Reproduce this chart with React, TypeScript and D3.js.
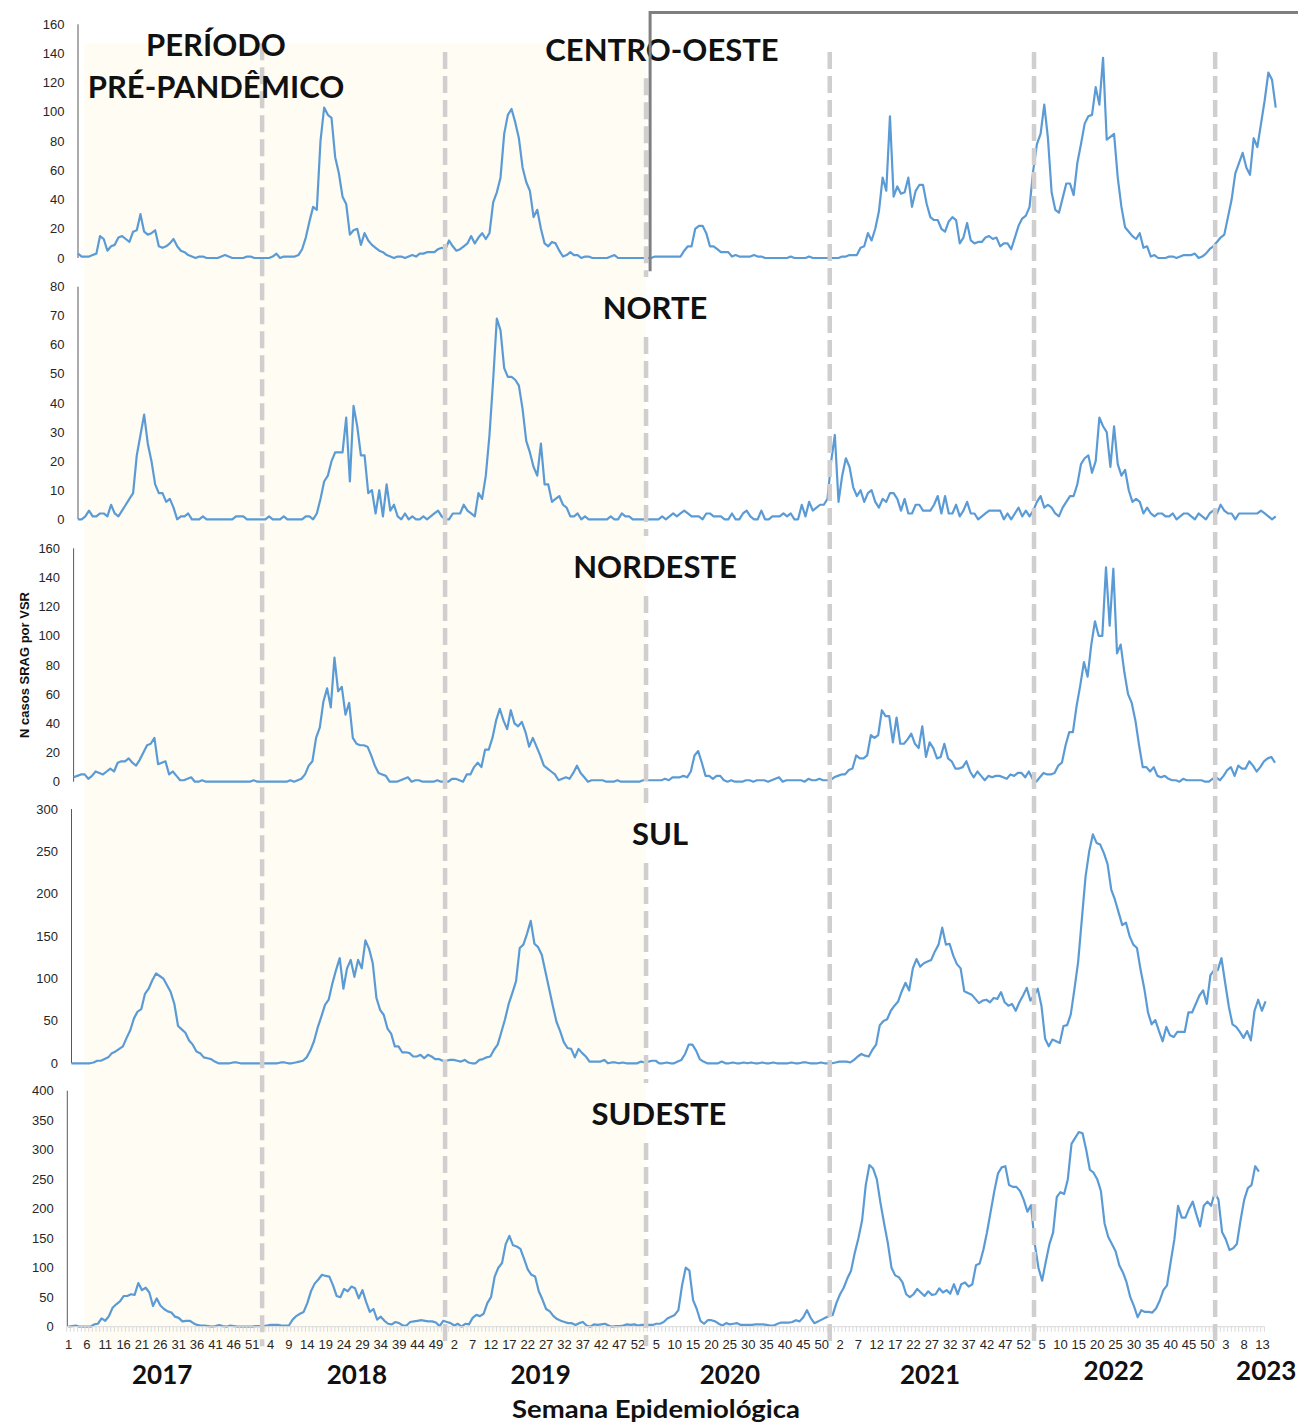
import React from "react";
import * as d3 from "d3";

// categories: epidemiological weeks per year (2023 partial)
const years = ["2017", "2018", "2019", "2020", "2021", "2022", "2023"];
const weeksPerYear = [52, 52, 52, 53, 52, 52, 16];
// where each year label sits, in week index
const yearLabelWeek = [25.5, 78.5, 128.5, 180, 234.5, 284.5, 326];
// dashed year dividers (week index, bottom panel scale)
const dividerWeek = [52.7, 102.5, 157.2, 207.2, 262.8, 312.1];
// top of each divider, in CENTRO-OESTE values
const dividerTopValue = [147, 141, 123, 141, 141, 141];

// weekly SRAG cases by RSV, per region (2017 w1 ...)
const centroOeste = [
  3, 1, 1, 1, 2, 3, 15, 13, 5, 8, 9, 14, 15, 13, 11, 18, 19, 30, 18, 16, 17, 19, 8, 7, 8, 10, 13, 8, 5, 4, 2, 1, 0, 1, 1, 0, 0, 0, 0, 1, 2, 1, 0, 0, 0, 0, 1, 1, 0, 0, 0, 0,
  0, 1, 3, 0, 1, 1, 1, 1, 2, 6, 14, 25, 35, 33, 80, 103, 98, 96, 69, 58, 42, 37, 16, 19, 20, 9, 17, 12, 9, 7, 5, 4, 2, 1, 0, 1, 1, 0, 1, 2, 1, 3, 3, 4, 4, 4, 6, 7, 6, 12, 8, 5,
  6, 8, 10, 15, 10, 14, 17, 13, 17, 38, 45, 55, 85, 98, 102, 93, 82, 62, 52, 46, 28, 33, 20, 10, 8, 11, 10, 5, 1, 2, 4, 2, 2, 0, 1, 1, 0, 0, 0, 0, 0, 1, 2, 0, 0, 0, 0, 0, 0, 0, 0, 0,
  0, 1, 1, 1, 1, 1, 1, 1, 1, 5, 8, 8, 20, 22, 22, 17, 8, 8, 6, 4, 4, 4, 1, 2, 1, 1, 1, 1, 2, 1, 1, 0, 0, 0, 0, 0, 0, 0, 1, 0, 0, 0, 0, 1, 0, 0, 0, 0, 0, 0, 0, 0, 1,
  1, 2, 2, 2, 7, 8, 17, 12, 20, 32, 55, 46, 97, 42, 49, 44, 45, 55, 35, 46, 50, 50, 37, 28, 26, 26, 20, 18, 25, 28, 26, 10, 14, 24, 12, 10, 11, 11, 14, 15, 13, 14, 8, 10, 10, 6, 14, 22, 27, 29, 35, 60,
  78, 85, 105, 82, 45, 33, 31, 41, 51, 51, 43, 65, 78, 92, 97, 98, 117, 105, 137, 81, 83, 85, 55, 35, 21, 18, 15, 13, 17, 7, 8, 1, 2, 0, 0, 0, 1, 1, 0, 1, 2, 2, 2, 3, 0, 1, 3, 6, 8, 11, 14, 16,
  28, 40, 58, 65, 72, 62, 57, 82, 76, 92, 108, 127, 122, 103,
];

const norte = [
  0, 0, 1, 3, 1, 1, 2, 2, 1, 5, 2, 1, 3, 5, 7, 9, 22, 29, 36, 26, 20, 12, 9, 9, 6, 7, 4, 0, 1, 1, 2, 0, 0, 0, 1, 0, 0, 0, 0, 0, 0, 0, 0, 1, 1, 1, 0, 0, 0, 0, 0, 0,
  1, 0, 0, 0, 1, 0, 0, 0, 0, 0, 1, 1, 0, 2, 7, 13, 15, 20, 23, 23, 23, 35, 13, 39, 32, 22, 22, 9, 10, 2, 10, 1, 12, 3, 5, 1, 0, 2, 0, 1, 0, 0, 1, 0, 1, 2, 3, 1, 0, 0, 2, 2,
  2, 5, 3, 2, 1, 9, 7, 15, 29, 48, 69, 65, 52, 49, 49, 48, 46, 38, 27, 23, 18, 15, 26, 12, 12, 6, 7, 8, 5, 4, 1, 1, 2, 0, 1, 0, 0, 0, 0, 0, 0, 1, 0, 0, 2, 1, 1, 0, 0, 0, 0, 0,
  0, 0, 0, 1, 0, 1, 2, 1, 2, 3, 2, 1, 1, 1, 0, 2, 2, 1, 1, 1, 0, 0, 2, 0, 0, 2, 3, 1, 0, 0, 3, 0, 0, 1, 1, 1, 2, 1, 2, 0, 0, 5, 1, 6, 3, 4, 5, 5, 7, 20, 29, 6, 15,
  21, 18, 11, 8, 10, 6, 9, 10, 6, 4, 7, 6, 9, 9, 7, 3, 7, 2, 2, 5, 5, 3, 3, 3, 5, 8, 2, 8, 2, 2, 5, 1, 3, 6, 2, 2, 0, 1, 2, 3, 3, 3, 3, 0, 2, 0, 2, 4, 1, 3, 1, 3,
  6, 8, 4, 5, 4, 2, 1, 4, 6, 8, 8, 12, 19, 21, 22, 16, 20, 35, 32, 30, 18, 32, 19, 15, 17, 10, 6, 7, 6, 2, 4, 2, 1, 2, 2, 1, 1, 2, 0, 1, 2, 2, 1, 0, 2, 1, 0, 2, 3, 2, 5, 3,
  2, 2, 0, 2, 2, 2, 2, 2, 2, 3, 2, 1, 0, 1,
];

const nordeste = [
  3, 4, 5, 5, 2, 4, 7, 6, 5, 7, 9, 7, 13, 14, 14, 16, 13, 11, 15, 20, 25, 26, 30, 12, 13, 14, 5, 7, 4, 1, 1, 2, 3, 0, 0, 1, 0, 0, 0, 0, 0, 0, 0, 0, 0, 0, 0, 0, 0, 1, 0, 0,
  0, 0, 0, 0, 0, 0, 0, 1, 0, 1, 2, 5, 11, 14, 30, 37, 55, 64, 51, 85, 62, 65, 46, 54, 30, 26, 25, 25, 24, 18, 11, 6, 5, 4, 0, 0, 0, 1, 2, 3, 0, 1, 1, 0, 0, 0, 0, 1, 0, 0, 0, 2,
  2, 1, 0, 5, 5, 10, 13, 10, 22, 22, 30, 42, 50, 42, 36, 49, 40, 38, 41, 34, 24, 30, 24, 18, 11, 9, 7, 5, 1, 2, 3, 2, 6, 11, 6, 3, 0, 1, 1, 1, 1, 0, 0, 0, 1, 0, 0, 0, 0, 0, 0, 1,
  1, 1, 1, 1, 1, 2, 1, 3, 3, 3, 4, 3, 7, 18, 21, 13, 4, 4, 2, 4, 4, 1, 0, 1, 0, 0, 0, 1, 1, 0, 1, 1, 1, 0, 1, 2, 3, 0, 1, 1, 1, 1, 1, 0, 2, 1, 1, 2, 1, 1, 1, 3, 4,
  5, 5, 8, 9, 18, 16, 16, 18, 32, 30, 32, 49, 45, 45, 27, 44, 26, 26, 29, 33, 26, 23, 38, 17, 27, 23, 16, 17, 26, 16, 14, 9, 9, 10, 14, 7, 3, 7, 4, 1, 4, 3, 4, 4, 3, 2, 5, 4, 6, 6, 3, 7,
  2, 0, 3, 6, 5, 5, 6, 11, 13, 25, 34, 34, 52, 66, 82, 72, 94, 110, 100, 100, 147, 107, 146, 88, 94, 75, 60, 54, 42, 25, 10, 10, 7, 10, 4, 3, 4, 2, 1, 1, 0, 2, 1, 1, 1, 1, 1, 0, 0, 2, 3, 1,
  4, 8, 10, 4, 11, 9, 9, 14, 11, 7, 10, 14, 16, 17, 13,
];

const sul = [
  0, 0, 0, 0, 0, 0, 1, 3, 3, 5, 7, 12, 14, 17, 20, 30, 39, 53, 61, 64, 82, 88, 98, 106, 103, 100, 92, 84, 70, 44, 40, 36, 27, 22, 14, 12, 7, 6, 5, 2, 0, 0, 0, 0, 1, 1, 0, 0, 0, 0, 0, 0,
  0, 0, 0, 0, 0, 1, 1, 0, 0, 1, 2, 3, 7, 15, 26, 42, 55, 69, 75, 94, 110, 124, 88, 112, 122, 102, 122, 112, 145, 135, 118, 77, 63, 57, 41, 35, 20, 20, 13, 13, 12, 8, 8, 10, 6, 10, 8, 5, 5, 3, 3, 4,
  4, 3, 2, 4, 1, 0, 0, 4, 5, 7, 8, 16, 22, 37, 52, 70, 83, 97, 136, 140, 153, 168, 141, 137, 128, 108, 88, 68, 49, 38, 25, 18, 17, 7, 17, 12, 8, 2, 2, 2, 2, 4, 0, 1, 1, 0, 1, 0, 0, 0, 0, 2,
  1, 2, 3, 3, 0, 0, 1, 0, 0, 2, 4, 11, 22, 22, 15, 5, 2, 0, 0, 0, 0, 2, 0, 0, 1, 0, 0, 1, 0, 1, 0, 0, 1, 0, 0, 1, 0, 0, 0, 0, 1, 0, 0, 1, 1, 0, 0, 0, 1, 0, 0, 0, 1,
  2, 2, 2, 1, 4, 8, 11, 9, 8, 16, 22, 45, 50, 52, 62, 68, 73, 85, 95, 86, 112, 123, 114, 118, 120, 122, 132, 140, 160, 140, 141, 127, 117, 112, 85, 83, 81, 76, 71, 74, 75, 72, 77, 76, 84, 72, 68, 70, 62, 72, 80, 89,
  74, 80, 88, 68, 29, 20, 28, 26, 24, 44, 45, 58, 88, 120, 170, 220, 250, 270, 260, 258, 248, 235, 205, 193, 178, 163, 166, 150, 140, 136, 110, 88, 60, 46, 51, 38, 26, 43, 33, 31, 37, 37, 37, 60, 60, 70, 80, 86, 70, 104, 110, 110,
  124, 95, 67, 46, 43, 37, 30, 38, 27, 62, 75, 62, 73,
];

const sudeste = [
  0, 1, 2, 0, 0, 0, 0, 4, 5, 14, 10, 18, 32, 38, 43, 52, 52, 55, 54, 74, 62, 66, 58, 35, 48, 36, 30, 26, 24, 17, 15, 9, 10, 10, 6, 3, 2, 2, 1, 0, 1, 3, 1, 0, 2, 1, 0, 0, 0, 0, 0, 1,
  1, 1, 2, 3, 3, 3, 2, 2, 2, 12, 18, 22, 25, 40, 60, 73, 80, 88, 86, 85, 70, 52, 50, 64, 60, 68, 65, 48, 62, 42, 25, 30, 12, 17, 10, 5, 4, 8, 6, 2, 2, 8, 9, 10, 11, 10, 9, 9, 7, 1, 10, 8,
  6, 2, 5, 0, 5, 4, 15, 20, 18, 22, 40, 50, 85, 100, 108, 140, 154, 138, 136, 132, 115, 97, 88, 85, 60, 46, 30, 26, 18, 13, 10, 8, 6, 6, 3, 6, 8, 2, 0, 4, 3, 4, 5, 2, 0, 1, 1, 2, 4, 3, 4, 2,
  3, 3, 3, 3, 5, 5, 8, 14, 17, 20, 28, 70, 100, 95, 45, 30, 10, 5, 11, 11, 9, 5, 2, 6, 4, 5, 6, 3, 3, 3, 3, 4, 4, 4, 3, 2, 2, 5, 7, 7, 7, 8, 11, 9, 16, 28, 15, 6, 9, 12, 15, 18, 20,
  40, 55, 66, 82, 95, 125, 150, 180, 240, 274, 268, 250, 210, 175, 142, 100, 87, 84, 75, 55, 50, 55, 64, 58, 52, 60, 54, 55, 65, 58, 62, 56, 72, 55, 72, 75, 68, 72, 104, 107, 130, 160, 195, 230, 260, 270, 272, 240, 237, 237, 230, 215,
  195, 206, 140, 100, 78, 110, 140, 160, 220, 228, 225, 250, 310, 320, 330, 328, 300, 266, 261, 250, 230, 175, 152, 140, 128, 104, 92, 75, 50, 35, 16, 28, 25, 25, 24, 31, 44, 62, 70, 110, 148, 205, 185, 185, 200, 212, 190, 170, 205, 212, 205, 228,
  215, 160, 148, 130, 133, 140, 180, 215, 235, 240, 272, 263,
];

const PX_PER_WEEK = 3.674;
const LINE = "#5b9bd5";
const TICK_FONT = "'Liberation Sans', Arial, sans-serif";
const TITLE_FONT = "Lato, 'Open Sans', sans-serif";

const panels = [
  { title: "CENTRO-OESTE", values: centroOeste, max: 160, step: 20, axisX: 78, x0: 78, top: 24.3, bottom: 258, tx: 662, ty: 61 },
  { title: "NORTE", values: norte, max: 80, step: 10, axisX: 78, x0: 78, top: 286.7, bottom: 519.3, tx: 655, ty: 319 },
  { title: "NORDESTE", values: nordeste, max: 160, step: 20, axisX: 73.6, x0: 73.6, top: 548.3, bottom: 781.7, tx: 655, ty: 578 },
  { title: "SUL", values: sul, max: 300, step: 50, axisX: 71.5, x0: 71.5, top: 809, bottom: 1063.3, tx: 660, ty: 845 },
  { title: "SUDESTE", values: sudeste, max: 400, step: 50, axisX: 67.3, x0: 68.5, top: 1090.7, bottom: 1326.7, tx: 659, ty: 1125 },
];

export default function App() {
  const W = 1298;
  const H = 1428;

  const weekNumbers: number[] = [];
  weeksPerYear.forEach((n) => {
    for (let w = 1; w <= n; w++) weekNumbers.push(w);
  });

  const scales = panels.map((p) => ({
    x: d3.scaleLinear().domain([0, 325]).range([p.x0, p.x0 + 325 * PX_PER_WEEK]),
    y: d3.scaleLinear().domain([0, p.max]).range([p.bottom, p.top]),
  }));
  const xb = scales[4].x;
  const yb = scales[4].y;
  const y1 = scales[0].y;

  const tickIdx = d3.range(0, 327);
  const labelIdx = d3.range(0, 326, 5);

  // the divider that runs through the region titles is broken around them
  const dividerSegments = (i: number): [number, number][] => {
    const top = y1(dividerTopValue[i]);
    const bot = yb(-33);
    if (i !== 2) return [[top, bot]];
    const segs: [number, number][] = [];
    let start = top;
    panels.slice(1).forEach((p) => {
      segs.push([start, p.ty - 42]);
      start = p.ty + 18;
    });
    segs.push([start, bot]);
    return segs;
  };

  return (
    <svg
      width={W}
      height={H}
      viewBox={`0 0 ${W} ${H}`}
      style={{ position: "absolute", left: 0, top: 0, display: "block", background: "#fff" }}
    >
      {/* pre-pandemic shading */}
      <rect
        x={xb(4.2)}
        y={y1(147)}
        width={xb(dividerWeek[2]) - xb(4.2)}
        height={yb(-40) - y1(147)}
        fill="#fefcf3"
      />

      {panels.map((p, k) => {
        const { x, y } = scales[k];
        const line = d3
          .line<number>()
          .x((_, i) => x(i))
          .y((d) => y(d));
        const ticks = d3.range(0, p.max + 1, p.step);
        return (
          <g key={p.title}>
            <line x1={p.axisX} x2={p.axisX} y1={y(p.max)} y2={y(0)} stroke="#595959" strokeWidth={1} />
            {ticks.map((t) => (
              <text
                key={t}
                x={p.axisX - 13.5}
                y={y(t)}
                dy="0.35em"
                textAnchor="end"
                fontFamily={TICK_FONT}
                fontSize={13}
                fill="#262626"
              >
                {t}
              </text>
            ))}
            <path d={line(p.values) || ""} fill="none" stroke={LINE} strokeWidth={2.2} strokeLinejoin="round" />
          </g>
        );
      })}

      {/* bottom category axis */}
      <line x1={xb(-0.5)} x2={xb(325.5)} y1={yb(0)} y2={yb(0)} stroke="#d9d9d9" strokeWidth={1} />
      {tickIdx.map((i) => (
        <line key={i} x1={xb(i - 0.5)} x2={xb(i - 0.5)} y1={yb(0)} y2={yb(0) + 5} stroke="#d9d9d9" strokeWidth={1} />
      ))}
      {labelIdx.map((i) => (
        <text
          key={i}
          x={xb(i)}
          y={yb(0) + 17.5}
          dy="0.35em"
          textAnchor="middle"
          fontFamily={TICK_FONT}
          fontSize={13}
          fill="#262626"
        >
          {weekNumbers[i]}
        </text>
      ))}

      {/* year dividers */}
      {dividerWeek.map((w, i) =>
        dividerSegments(i).map(([a, b], j) => (
          <line
            key={`${i}-${j}`}
            x1={xb(w)}
            x2={xb(w)}
            y1={a}
            y2={b}
            stroke="#d0cece"
            strokeWidth={4.5}
            strokeDasharray="17 7"
          />
        ))
      )}

      {/* region titles */}
      {panels.map((p) => (
        <text
          key={p.title + "-t"}
          x={p.tx}
          y={p.ty}
          textAnchor="middle"
          fontFamily={TITLE_FONT}
          fontWeight={700}
          fontSize={31}
          fill="#111"
        >
          {p.title}
        </text>
      ))}

      <text x={216} y={56} textAnchor="middle" fontFamily={TITLE_FONT} fontWeight={700} fontSize={31} fill="#111">
        PERÍODO
      </text>
      <text x={216} y={98} textAnchor="middle" fontFamily={TITLE_FONT} fontWeight={700} fontSize={31} fill="#111">
        PRÉ-PANDÊMICO
      </text>

      {/* pandemic period frame */}
      <polyline
        points={`${xb(158.3)},${y1(-9)} ${xb(158.3)},${y1(168)} ${W},${y1(168)}`}
        fill="none"
        stroke="#7f7f7f"
        strokeWidth={3}
      />

      {years.map((yr, i) => (
        <text
          key={yr}
          x={xb(yearLabelWeek[i])}
          y={i >= 5 ? 1380 : 1384}
          textAnchor="middle"
          fontFamily={TITLE_FONT}
          fontWeight={700}
          fontSize={26}
          fill="#111"
        >
          {yr}
        </text>
      ))}

      <text
        x={656}
        y={1418}
        textAnchor="middle"
        fontFamily={TITLE_FONT}
        fontWeight={700}
        fontSize={24}
        textLength={288}
        lengthAdjust="spacingAndGlyphs"
        fill="#111"
      >
        Semana Epidemiológica
      </text>

      <text
        transform={`translate(29,665) rotate(-90)`}
        textAnchor="middle"
        fontFamily={TICK_FONT}
        fontWeight={700}
        fontSize={13}
        fill="#111"
      >
        N casos SRAG por VSR
      </text>
    </svg>
  );
}
